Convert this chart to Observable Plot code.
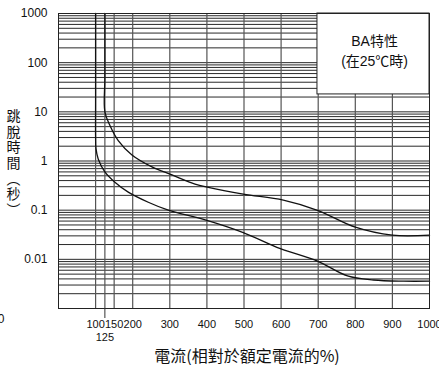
<!DOCTYPE html>
<html><head><meta charset="utf-8">
<script src="https://cdn.jsdelivr.net/npm/d3@7"></script>
<script src="https://cdn.jsdelivr.net/npm/@observablehq/plot@0.6"></script>
<style>html,body{margin:0;padding:0;background:#fff;} svg{display:block}</style>
</head><body><div id="chart"></div>
<script>
// X axis (current, % of rated)
const xTicks = [100, 150, 200, 300, 400, 500, 600, 700, 800, 900, 1000];
const xTickLabels = ["100", "150", "200", "300", "400", "500", "600", "700", "800", "900", "1000"];
const xExtraTick = [125];
const xExtraLabel = ["125"];
const xGridLines = [100, 125, 150, 200, 300, 400, 500, 600, 700, 800, 900];
// Y axis (trip time, s)
const yTicks = [1000, 100, 10, 1, 0.1, 0.01];
const yTickLabels = ["1000", "100", "10", "1", "0.1", "0.01"];
const yMantissas = [1, 2, 3, 4, 5, 6, 7, 8, 9];
const yDecades = [0.001, 0.01, 0.1, 1, 10, 100];
// Lower (minimum) trip curve
const minCurveX = [100, 100, 100, 101, 107, 125, 152, 188, 242, 296, 400, 498, 598, 698, 779, 849, 930, 1000];
const minCurveY = [1000, 20, 3, 1.8, 1.1, 0.6, 0.37, 0.233, 0.145, 0.1, 0.062, 0.035, 0.0165, 0.0092, 0.0046, 0.0038, 0.0036, 0.0036];
// Upper (maximum) trip curve
const maxCurveX = [125, 125, 125, 139, 161, 198, 252, 306, 368, 401, 498, 606, 698, 800, 900, 1000];
const maxCurveY = [1000, 50, 10, 5.2, 2.6, 1.33, 0.76, 0.52, 0.34, 0.294, 0.212, 0.16, 0.0995, 0.045, 0.031, 0.031];
// Legend box
const legendBox = [{x1: 698, x2: 1000, y1: 22.6, y2: 1000}];
const legendLines = ["BA特性", "(在25℃時)"];
const legendLineX = [852, 852];
const legendLineY = [268, 105];
const yTitle = "跳脫時間（秒）";
const xTitle = "電流(相對於額定電流的%)";

const yGrid = yDecades.flatMap(d => yMantissas.map(m => m * d)).concat([1000]);
const minData = minCurveX.map((x, i) => ({x, y: minCurveY[i]}));
const maxData = maxCurveX.map((x, i) => ({x, y: maxCurveY[i]}));
const legendData = legendLines.map((t, i) => ({t, x: legendLineX[i], y: legendLineY[i]}));

const latin = "'Liberation Sans', Arial, 'Noto Sans CJK TC', sans-serif";
const cjk = "'Noto Sans CJK TC', 'Noto Sans CJK SC', sans-serif";

const chart = Plot.plot({
  width: 439, height: 365,
  marginTop: 13, marginLeft: 58, marginRight: 10, marginBottom: 57,
  style: {fontFamily: latin, fontSize: "11px", background: "#fff", color: "#111"},
  x: {domain: [0, 1000]},
  y: {type: "log", domain: [0.001, 1000]},
  marks: [
    Plot.ruleY(yGrid, {stroke: "#111", strokeWidth: 0.9}),
    Plot.ruleX(xGridLines, {stroke: "#555", strokeWidth: 1.2}),
    Plot.line(minData, {x: "x", y: "y", curve: "catmull-rom", stroke: "#111", strokeWidth: 1.3}),
    Plot.line(maxData, {x: "x", y: "y", curve: "catmull-rom", stroke: "#111", strokeWidth: 1.3}),
    Plot.rect(legendBox, {x1: "x1", x2: "x2", y1: "y1", y2: "y2", fill: "#fff", stroke: "#222", strokeWidth: 1}),
    Plot.text(legendData, {x: "x", y: "y", text: "t", fontSize: 14, fill: "#111"}),
    Plot.frame({stroke: "#222", strokeWidth: 1}),
    Plot.axisX(xTicks, {tickSize: 0, tickPadding: 12, fontSize: 11, label: null,
      tickFormat: d => xTickLabels[xTicks.indexOf(d)]}),
    Plot.axisX(xExtraTick, {tickSize: 10, tickPadding: 15, fontSize: 11, label: null, stroke: "#333",
      tickFormat: d => xExtraLabel[xExtraTick.indexOf(d)]}),
    Plot.axisY(yTicks, {tickSize: 0, tickPadding: 11, fontSize: 12, label: null,
      tickFormat: d => yTickLabels[yTicks.indexOf(d)]}),
    Plot.text([yTitle], {frameAnchor: "left", textAnchor: "middle", dx: -45, dy: -2, fontSize: 14, fontFamily: cjk, fill: "#111", className: "ytitle"}),
    Plot.text([xTitle], {frameAnchor: "bottom", dx: 3, dy: 53, fontSize: 16, fontFamily: cjk, fill: "#111"}),
    Plot.text(["0"], {frameAnchor: "bottom-left", dx: -54, dy: 14, textAnchor: "end", fontSize: 12, fill: "#111"})
  ]
});
d3.select(chart).selectAll(".ytitle text")
  .style("writing-mode", "vertical-rl")
  .style("letter-spacing", "1.6px")
  .attr("dy", null);
document.getElementById("chart").appendChild(chart);
</script>
</body></html>
